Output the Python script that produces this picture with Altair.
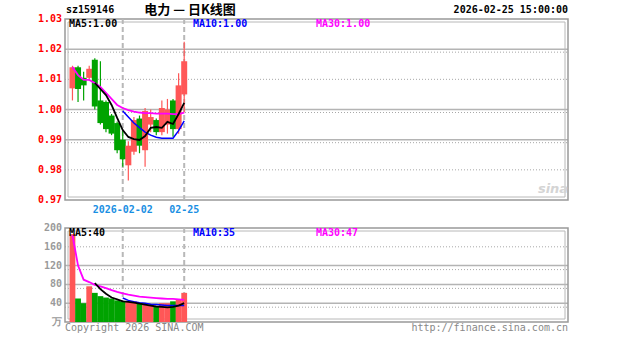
import altair as alt
import pandas as pd

# ---- data ----
day_index = list(range(21))
opens  = [1.0070, 1.0140, 1.0105, 1.0105, 1.0165, 1.0030, 1.0025, 0.9980, 0.9955, 0.9900,
          0.9815, 0.9860, 0.9970, 0.9865, 0.9950, 0.9965, 0.9925, 0.9950, 1.0030, 0.9935, 1.0050]
highs  = [1.0145, 1.0145, 1.0125, 1.0145, 1.0170, 1.0160, 1.0030, 0.9985, 0.9960, 0.9930,
          0.9895, 0.9975, 0.9980, 1.0005, 1.0000, 0.9970, 1.0030, 1.0035, 1.0035, 1.0120, 1.0225]
lows   = [1.0030, 1.0025, 1.0030, 1.0095, 1.0000, 0.9950, 0.9925, 0.9915, 0.9855, 0.9810,
          0.9765, 0.9850, 0.9855, 0.9810, 0.9925, 0.9915, 0.9915, 0.9920, 0.9910, 0.9920, 0.9990]
closes = [1.0140, 1.0068, 1.0080, 1.0135, 1.0010, 0.9955, 0.9935, 0.9920, 0.9865, 0.9835,
          0.9880, 0.9965, 0.9880, 0.9995, 0.9975, 0.9925, 1.0005, 1.0000, 0.9935, 1.0080, 1.0160]
volumes = [187, 50, 40, 76, 62, 55, 52, 50, 46, 44, 44, 44, 40, 37, 37, 34, 40, 40, 44, 48, 62]

price_ma5  = [None, None, None, None, 1.0088, 1.0068, 1.0048, 1.0015, 0.9972, 0.9932, 0.9909,
              0.9902, 0.9899, 0.9912, 0.9939, 0.9942, 0.9939, 0.9959, 0.9952, 0.9985, 1.0022]
price_ma10 = [None] * 9 + [0.9995, 0.9975, 0.9955, 0.9940, 0.9925, 0.9915, 0.9908, 0.9905,
                           0.9905, 0.9905, 0.9930, 0.9962]
price_ma30 = [1.0141, 1.0114, 1.0098, 1.0098, 1.0088, 1.0075, 1.0055, 1.0035, 1.0015, 1.0005,
              0.9998, 0.9993, 0.9990, 0.9988, 0.9988, 0.9986, 0.9986, 0.9986, 0.9985, 0.9985, 0.9990]
vol_ma5  = [None, None, None, None, 83, 70, 60, 52, 48, 44, 43, 41, 39, 37, 35, 33, 32, 31, 32, 35, 40]
vol_ma10 = [None] * 9 + [51, 46, 43, 41, 40, 38, 37, 36, 35, 35, 35, 35]
vol_ma30 = [185, 120, 90, 85, 79, 76, 72, 68, 64, 61, 58, 56, 54, 53, 52, 51, 50, 49, 49, 48, 47]

date_ticks = [9, 20]
date_labels = ["2026-02-02", "02-25"]
price_ticks = [0.97, 0.98, 0.99, 1.00, 1.01, 1.02, 1.03]
price_solid = [1.02, 1.00, 0.99]
price_dotted = [1.01, 0.98]
vol_ticks = [0, 40, 80, 120, 160, 200]
vol_tick_labels = ["万", "40", "80", "120", "160", "200"]
vol_solid = [120, 80, 40]
vol_dotted = [160]

RED = "#ff5757"
GREEN = "#00a300"
MONO = "DejaVu Sans Mono"
CJK = "Noto Sans CJK SC"

W, H = 503, 303          # whole drawing area (both panels)
P_TOP, P_BOT = 1.03, 0.97
P_PIX = 181              # price panel height in px
V_TOP_PIX = 209          # volume panel top in px from drawing top
V_PIX = 94               # volume panel height

p_lo = P_TOP - (P_TOP - P_BOT) * H / P_PIX
v_hi = 200 + V_TOP_PIX * 200 / V_PIX

df = pd.DataFrame({"i": day_index, "open": opens, "high": highs, "low": lows,
                   "close": closes, "vol": volumes})
df["dir"] = ["up" if c >= o else "down" for o, c in zip(opens, closes)]

xscale = alt.Scale(domain=[-0.44, 87.8], nice=False, zero=False)
pscale = alt.Scale(domain=[p_lo, P_TOP], nice=False, zero=False)
vscale = alt.Scale(domain=[0, v_hi], nice=False, zero=False)
X = alt.X("i:Q", scale=xscale, axis=None)
color = alt.Color("dir:N", scale=alt.Scale(domain=["up", "down"], range=[RED, GREEN]), legend=None)

def PY(field):
    return alt.Y(field, scale=pscale, axis=None)

def VY(field):
    return alt.Y(field, scale=vscale, axis=None)

one = pd.DataFrame({"a": [0]})
layers = []

# ---- grids ----
def grid(vals, ysc, dotted, offset=0):
    d = pd.DataFrame({"v": vals})
    kw = dict(color="#b4b4b4", strokeWidth=1)
    if dotted:
        kw.update(strokeDash=[1, 2], color="#a8a8a8")
    else:
        kw.update(strokeWidth=1.5)
    if offset:
        kw["yOffset"] = offset
    return alt.Chart(d).mark_rule(**kw).encode(
        y=alt.Y("v:Q", scale=ysc, axis=None), x=alt.value(0), x2=alt.value(W))

layers += [grid(price_solid, pscale, False), grid(price_solid, pscale, True, 3),
           grid(price_dotted, pscale, True),
           grid(vol_solid, vscale, False), grid(vol_solid, vscale, True, 4),
           grid(vol_dotted, vscale, True)]

# ---- frames (double line) ----
def frame(top, bot, ysc):
    outer = alt.Chart(one).mark_rect(fillOpacity=0, stroke="#999999", strokeWidth=1.5).encode(
        x=alt.value(0), x2=alt.value(W),
        y=alt.Y("t:Q", scale=ysc, axis=None), y2="b:Q").transform_calculate(t=str(top), b=str(bot))
    inner = alt.Chart(one).mark_rect(fillOpacity=0, stroke="#b8b8b8", strokeWidth=1,
                                     yOffset=3, y2Offset=-3).encode(
        x=alt.value(3), x2=alt.value(W - 3),
        y=alt.Y("t:Q", scale=ysc, axis=None), y2="b:Q").transform_calculate(t=str(top), b=str(bot))
    return [outer, inner]

layers += frame(P_TOP, P_BOT, pscale)
layers += frame(200, 0, vscale)

# ---- vertical date separators ----
dates_df = pd.DataFrame({"i": date_ticks, "label": date_labels})
layers.append(alt.Chart(dates_df).mark_rule(color="#b8b8b8", strokeWidth=2, strokeDash=[5, 3]).encode(
    x=X, y=alt.Y("t:Q", scale=pscale, axis=None), y2="b:Q").transform_calculate(
    t=str(P_TOP), b=str(P_BOT)))
layers.append(alt.Chart(dates_df).mark_rule(color="#b8b8b8", strokeWidth=2, strokeDash=[5, 3]).encode(
    x=X, y=alt.Y("t:Q", scale=vscale, axis=None), y2="b:Q").transform_calculate(t="200", b="0"))

# ---- candles ----
base = alt.Chart(df)
layers.append(base.mark_rule(strokeWidth=1.2).encode(x=X, y=PY("low:Q"), y2="high:Q", color=color))
layers.append(base.mark_bar(size=6).encode(x=X, y=PY("open:Q"), y2="close:Q", color=color))

# ---- volume bars ----
layers.append(base.mark_bar(size=5.8).encode(x=X, y=VY("vol:Q"), y2=alt.Y2(datum=0), color=color))

# ---- moving averages ----
def ma_line(vals, col, ysc, w=1.5):
    d = pd.DataFrame({"i": day_index, "v": vals}).dropna()
    return alt.Chart(d).mark_line(color=col, strokeWidth=w).encode(
        x=X, y=alt.Y("v:Q", scale=ysc, axis=None))

layers += [ma_line(price_ma30, "#ff00ff", pscale, 1.8), ma_line(price_ma10, "#0000ff", pscale),
           ma_line(price_ma5, "#000000", pscale, 1.8),
           ma_line(vol_ma30, "#ff00ff", vscale, 1.8), ma_line(vol_ma10, "#0000ff", vscale),
           ma_line(vol_ma5, "#000000", vscale, 1.8)]

# ---- axis labels ----
layers.append(alt.Chart(pd.DataFrame({"v": price_ticks})).mark_text(
    align="right", baseline="middle", font=MONO, fontSize=10, fontWeight="bold",
    color="#ff0000").encode(x=alt.value(-3), y=PY("v:Q"), text=alt.Text("v:Q", format=".2f")))
layers.append(alt.Chart(pd.DataFrame({"v": vol_ticks, "l": vol_tick_labels})).mark_text(
    align="right", baseline="middle", font=MONO, fontSize=10, fontWeight="bold",
    color="#9a9a9a").encode(x=alt.value(-3), y=VY("v:Q"), text="l:N"))
layers.append(alt.Chart(dates_df).mark_text(
    font=MONO, fontSize=10, fontWeight="bold", color="#1a8fe3", baseline="middle").encode(
    x=X, y=alt.value(P_PIX + 10), text="label:N"))

# ---- free texts ----
def label(txt, x, y, col, align="left", font=MONO, size=10, weight="bold", style=None):
    kw = dict(align=align, baseline="middle", font=font, fontSize=size,
              fontWeight=weight, color=col)
    if style:
        kw["fontStyle"] = style
    return alt.Chart(pd.DataFrame({"t": [txt]})).mark_text(**kw).encode(
        text="t:N", x=alt.value(x), y=alt.value(y))

layers += [
    label("sz159146", 1, -9, "#000000"),
    label("电力 — 日K线图", 125, -9, "#000000", align="center", font=CJK, size=13),
    label("2026-02-25 15:00:00", W, -9, "#000000", align="right"),
    label("MA5:1.00", 4, 5, "#000000"),
    label("MA10:1.00", 128, 5, "#0000ff"),
    label("MA30:1.00", 251, 5, "#ff00ff"),
    label("sina", 488, 170, "#d4d4d4", align="center", font="DejaVu Sans", size=13, style="italic"),
    label("MA5:40", 4, V_TOP_PIX + 5, "#000000"),
    label("MA10:35", 128, V_TOP_PIX + 5, "#0000ff"),
    label("MA30:47", 251, V_TOP_PIX + 5, "#ff00ff"),
    label("Copyright 2026 SINA.COM", 0, H + 6, "#888888", weight="normal"),
    label("http://finance.sina.com.cn", W, H + 6, "#888888", align="right", weight="normal"),
]

chart = alt.layer(*layers).resolve_scale(y="independent").properties(
    width=W, height=H,
    autosize=alt.AutoSizeParams(type="none"),
    padding={"left": 65, "top": 19, "right": 59, "bottom": 20},
    background="white",
).configure_view(strokeWidth=0)

chart.save("out.html", embed_options={"renderer": "svg", "actions": False})
